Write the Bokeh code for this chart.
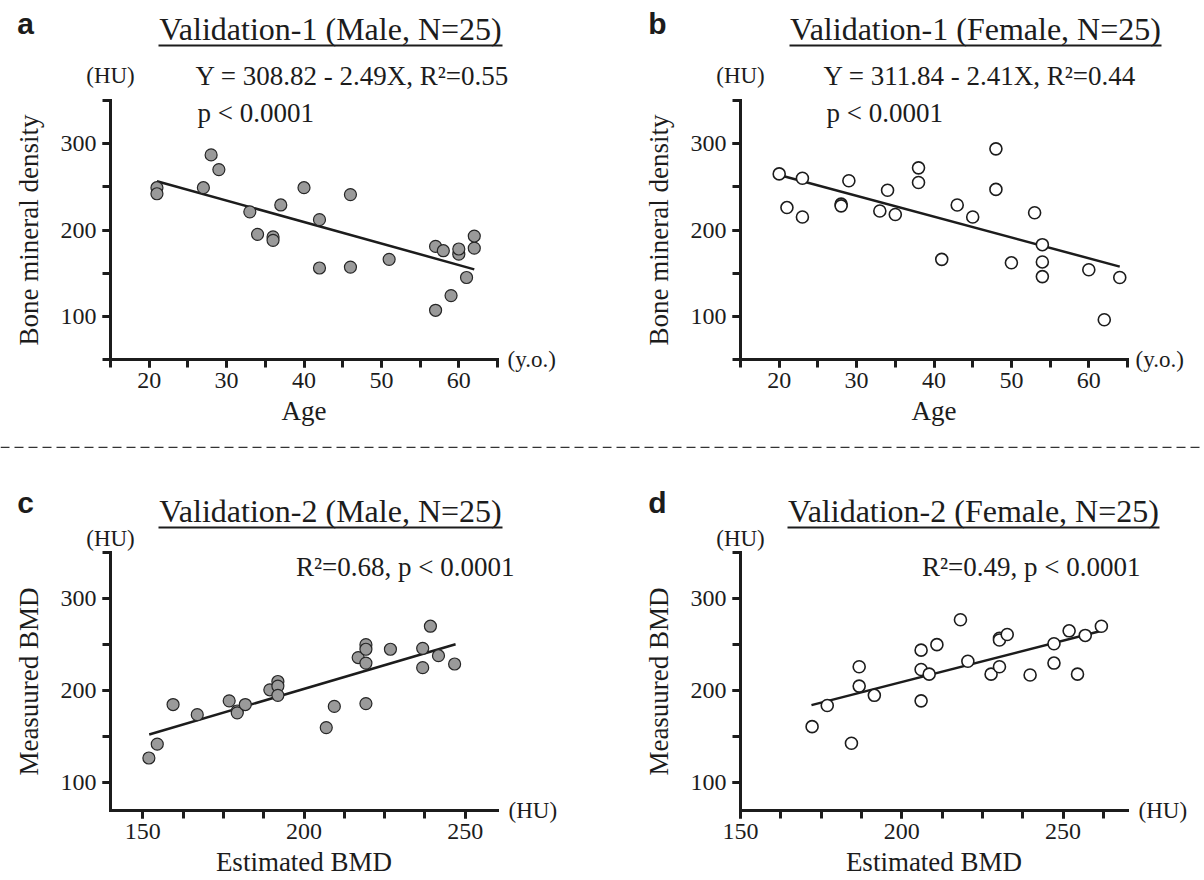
from bokeh.plotting import figure
from bokeh.models import Label, BoxAnnotation, SingleIntervalTicker, Range1d, Span
from bokeh.layouts import column, row
from bokeh.embed import file_html
from bokeh.resources import INLINE

SERIF = "Liberation Serif"
SANS = "Liberation Sans"
INK = "#1c1c1c"

# ---------------- data ----------------
# Panel a: Validation-1, Male
a_age = [21, 21, 28, 29, 27, 33, 34, 36, 36, 37, 40, 42, 42, 46, 46, 51, 57, 58, 57, 59, 60, 60, 61, 62, 62]
a_bmd = [249, 242, 287, 270, 249, 221, 195, 192, 188, 229, 249, 212, 156, 241, 157, 166, 181, 176, 107, 124, 172, 178, 145, 179, 193]
a_intercept, a_slope = 308.82, -2.49
a_fit_x = [21, 62]

# Panel b: Validation-1, Female
b_age = [20, 21, 23, 23, 28, 28, 29, 33, 34, 35, 38, 38, 41, 43, 45, 48, 48, 50, 53, 54, 54, 54, 60, 62, 64]
b_bmd = [265, 226, 260, 215, 230, 228, 257, 222, 246, 218, 272, 255, 166, 229, 215, 294, 247, 162, 220, 183, 163, 146, 154, 96, 145]
b_intercept, b_slope = 311.84, -2.41
b_fit_x = [20, 64]

# Panel c: Validation-2, Male
c_est = [151.9, 154.5, 159.4, 166.9, 176.8, 179.3, 179.3, 181.8, 189.4, 191.9, 191.9, 191.9, 206.9, 209.4,
         216.8, 219.2, 219.2, 219.2, 219.2, 226.8, 236.8, 236.8, 239.2, 241.7, 246.7]
c_meas = [127, 142, 185, 174, 189, 178, 176, 185, 201, 210, 205, 195, 160, 183,
          236, 250, 245, 230, 186, 245, 246, 225, 270, 238, 229]
c_fit_x = [152, 247]
c_fit_y = [152.5, 250.4]

# Panel d: Validation-2, Female
d_est = [172.2, 176.9, 184.4, 186.8, 186.8, 191.5, 206.0, 206.0, 206.0, 208.5, 210.9, 218.2, 220.5, 227.7,
         230.3, 230.3, 232.7, 230.3, 239.8, 247.2, 247.2, 251.9, 254.5, 256.9, 261.9]
d_meas = [161, 184, 143, 226, 205, 195, 244, 223, 189, 218, 250, 277, 232, 218,
          257, 255, 261, 226, 217, 251, 230, 265, 218, 260, 270]
d_fit_x = [172, 262]
d_fit_y = [184.4, 265.0]

a_fit_y = [a_intercept + a_slope * x for x in a_fit_x]
b_fit_y = [b_intercept + b_slope * x for x in b_fit_x]

# titles and statistics texts
titles = ["Validation-1 (Male, N=25)", "Validation-1 (Female, N=25)",
          "Validation-2 (Male, N=25)", "Validation-2 (Female, N=25)"]
stats = [["Y = 308.82 - 2.49X, R²=0.55", "p < 0.0001"],
         ["Y = 311.84 - 2.41X, R²=0.44", "p < 0.0001"],
         ["R²=0.68, p < 0.0001"],
         ["R²=0.49, p < 0.0001"]]

# ---------------- layout (page pixels) ----------------
FIG_W = 602
TOP_H, BOT_H = 448, 432


def style_axis(ax, interval, minors, label_size="24px"):
    ax.ticker = SingleIntervalTicker(interval=interval, num_minor_ticks=minors)
    ax.axis_line_width = 3
    ax.axis_line_color = INK
    ax.axis_line_cap = "square"
    ax.major_tick_line_width = 3
    ax.minor_tick_line_width = 3
    ax.major_tick_line_color = INK
    ax.minor_tick_line_color = INK
    ax.major_tick_out = 8
    ax.major_tick_in = 0
    ax.minor_tick_out = 8
    ax.minor_tick_in = 0
    ax.major_label_text_font = SERIF
    ax.major_label_text_font_size = label_size
    ax.major_label_text_color = INK
    ax.axis_label_text_font = SERIF
    ax.axis_label_text_font_style = "normal"
    ax.axis_label_text_font_size = "27px"
    ax.axis_label_text_color = INK


def panel(fig_left, fig_top, fig_h, xr, yr, px, py, x_int, x_minor, xlabel, ylabel):
    """px = (pixel of xr[0], pixel of xr[1]); py = (pixel of yr[0], pixel of yr[1])"""
    kx = (px[1] - px[0]) / (xr[1] - xr[0])
    ky = (py[0] - py[1]) / (yr[1] - yr[0])
    x_start = xr[0] - (px[0] - fig_left) / kx
    x_end = xr[1] + (fig_left + FIG_W - px[1]) / kx
    y_start = yr[0] - (fig_top + fig_h - py[0]) / ky
    y_end = yr[1] + (py[1] - fig_top) / ky
    p = figure(width=FIG_W, height=fig_h, x_range=Range1d(x_start, x_end), y_range=Range1d(y_start, y_end),
               output_backend="svg", toolbar_location=None, title_location=None,
               min_border=0, min_border_left=0, min_border_right=0, min_border_top=0, min_border_bottom=0)
    p.outline_line_color = None
    p.grid.visible = False
    p.background_fill_color = "white"
    p.border_fill_color = "white"
    xa, ya = p.xaxis[0], p.yaxis[0]
    style_axis(xa, x_int, x_minor)
    style_axis(ya, 100, 2)
    xa.fixed_location = yr[0]
    ya.fixed_location = xr[0]
    xa.bounds = xr
    ya.bounds = yr
    xa.axis_label = xlabel
    ya.axis_label = ylabel
    xa.major_label_standoff = 5
    xa.axis_label_standoff = 5
    ya.major_label_standoff = 6
    ya.axis_label_standoff = 14
    p._geom = (fig_left, fig_top, fig_h)
    return p


def text(p, x, y, t, size="27px", align="left", font=SERIF, style="normal"):
    fl, ft, fh = p._geom
    p.add_layout(Label(x=x - fl, y=ft + fh - y, x_units="screen", y_units="screen", text=t,
                       text_font=font, text_font_size=size, text_font_style=style,
                       text_align=align, text_baseline="middle", text_color=INK))


def underline(p, x0, x1, y):
    fl, ft, fh = p._geom
    p.add_layout(BoxAnnotation(left=x0 - fl, right=x1 - fl, bottom=ft + fh - y - 1, top=ft + fh - y + 1,
                               left_units="screen", right_units="screen",
                               top_units="screen", bottom_units="screen",
                               fill_color=INK, fill_alpha=1, line_color=None))


def points(p, xs, ys, fx, fy, filled):
    p.line(fx, fy, line_color=INK, line_width=2.5)
    if filled:
        p.scatter(xs, ys, size=12, marker="circle", fill_color="#9a9a9a",
                  line_color="#262626", line_width=1.2)
    else:
        p.scatter(xs, ys, size=12, marker="circle", fill_color="white",
                  line_color=INK, line_width=1.6)


# ---- a ----
pa = panel(0, 0, TOP_H, (15, 65), (50, 350), (110, 497), (359, 100), 10, 2, "Age", "Bone mineral density")
points(pa, a_age, a_bmd, a_fit_x, a_fit_y, True)
text(pa, 25, 23, "a", size="30px", font=SANS, style="bold", align="center")
text(pa, 330, 28, titles[0], size="32px", align="center")
underline(pa, 158, 502, 45)
text(pa, 110, 75, "(HU)", size="23px", align="center")
text(pa, 195, 75, stats[0][0])
text(pa, 197, 112, stats[0][1])
text(pa, 507, 359, "(y.o.)", size="23px")

# ---- b ----
pb = panel(602, 0, TOP_H, (15, 65), (50, 350), (740, 1127), (359, 100), 10, 2, "Age", "Bone mineral density")
points(pb, b_age, b_bmd, b_fit_x, b_fit_y, False)
text(pb, 657, 23, "b", size="30px", font=SANS, style="bold", align="center")
text(pb, 975, 28, titles[1], size="32px", align="center")
underline(pb, 789, 1161, 45)
text(pb, 740, 75, "(HU)", size="23px", align="center")
text(pb, 823, 75, stats[1][0])
text(pb, 826, 112, stats[1][1])
text(pb, 1135, 359, "(y.o.)", size="23px")

# dashed divider between the two rows
for p in (pa, pb):
    p.add_layout(Span(location=1, location_units="screen", dimension="width",
                      line_color="#333333", line_width=1.5, line_dash="9 5"))

# ---- c ----
pc = panel(0, TOP_H, BOT_H, (140, 260), (70, 350), (110, 497), (810, 552), 50, 4, "Estimated BMD", "Measuured BMD")
points(pc, c_est, c_meas, c_fit_x, c_fit_y, True)
text(pc, 25, 502, "c", size="30px", font=SANS, style="bold", align="center")
text(pc, 330, 510, titles[2], size="32px", align="center")
underline(pc, 158, 502, 527)
text(pc, 110, 538, "(HU)", size="23px", align="center")
text(pc, 514, 566, stats[2][0], align="right")
text(pc, 508, 810, "(HU)", size="23px")

# ---- d ----
pd_ = panel(602, TOP_H, BOT_H, (150, 270), (70, 350), (740, 1127), (810, 552), 50, 4, "Estimated BMD", "Measuured BMD")
points(pd_, d_est, d_meas, d_fit_x, d_fit_y, False)
text(pd_, 657, 502, "d", size="30px", font=SANS, style="bold", align="center")
text(pd_, 973, 510, titles[3], size="32px", align="center")
underline(pd_, 787, 1159, 527)
text(pd_, 740, 538, "(HU)", size="23px", align="center")
text(pd_, 1140, 566, stats[3][0], align="right")
text(pd_, 1138, 810, "(HU)", size="23px")

layout = column(row(pa, pb, spacing=0), row(pc, pd_, spacing=0), spacing=0)

open("out.html", "w").write(file_html(layout, INLINE))
